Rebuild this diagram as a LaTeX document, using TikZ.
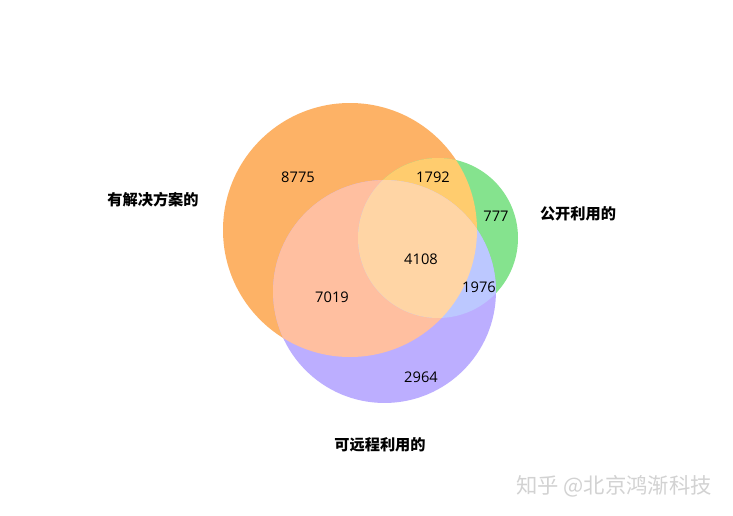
\documentclass[tikz,border=0pt]{standalone}
\usepackage{fontspec}
\setmainfont{Open Sans}
\newfontfamily\cjk{Noto Sans CJK SC}
\definecolor{cO}{RGB}{253,178,102}
\definecolor{cG}{RGB}{133,227,142}
\definecolor{cP}{RGB}{188,174,255}
\definecolor{cOG}{RGB}{255,204,110}
\definecolor{cOP}{RGB}{255,191,160}
\definecolor{cGP}{RGB}{188,200,255}
\definecolor{cOGP}{RGB}{255,213,165}
\definecolor{wm}{RGB}{210,210,210}
\begin{document}
\begin{tikzpicture}[x=0.75pt,y=-0.75pt,
  num/.style={font=\fontsize{11}{13}\selectfont, text=black, inner sep=0pt},
  lab/.style={font=\cjk\bfseries\fontsize{11.4}{13}\selectfont, text=black, inner sep=0pt}]
\useasboundingbox (0,0) rectangle (733,515);
\fill[white] (0,0) rectangle (733,515);
\coordinate (O) at (350,230);
\coordinate (G) at (438,238);
\coordinate (P) at (384.5,291.5);
\def\rO{95.25pt}
\def\rG{60pt}
\def\rP{83.6pt}
% single circles
\fill[cO] (O) circle[radius=\rO];
\fill[cG] (G) circle[radius=\rG];
\fill[cP] (P) circle[radius=\rP];
% pairwise overlaps
\begin{scope}
  \clip (O) circle[radius=\rO];
  \fill[cOG] (G) circle[radius=\rG];
  \fill[cOP] (P) circle[radius=\rP];
\end{scope}
\begin{scope}
  \clip (G) circle[radius=\rG];
  \fill[cGP] (P) circle[radius=\rP];
\end{scope}
% triple overlap
\begin{scope}
  \clip (O) circle[radius=\rO];
  \clip (G) circle[radius=\rG];
  \fill[cOGP] (P) circle[radius=\rP];
\end{scope}
% numbers
\node[num] (n1) at (298,177) {8775};
\node[num] (n2) at (433,177) {1792};
\node[num] (n3) at (496,216) {777};
\node[num] (n4) at (421,259) {4108};
\node[num] (n5) at (479,287) {1976};
\node[num] (n6) at (332,297) {7019};
\node[num] (n7) at (421,377) {2964};
% labels
\node[lab] (l1) at (153,200) {有解决方案的};
\node[lab] (l2) at (578,214) {公开利用的};
\node[lab] (l3) at (380,445) {可远程利用的};
% watermark
\node[font=\cjk\fontsize{16}{18}\selectfont, text=wm, inner sep=0pt] (w) at (614,486) {知乎 @北京鸿渐科技};
\end{tikzpicture}
\end{document}
